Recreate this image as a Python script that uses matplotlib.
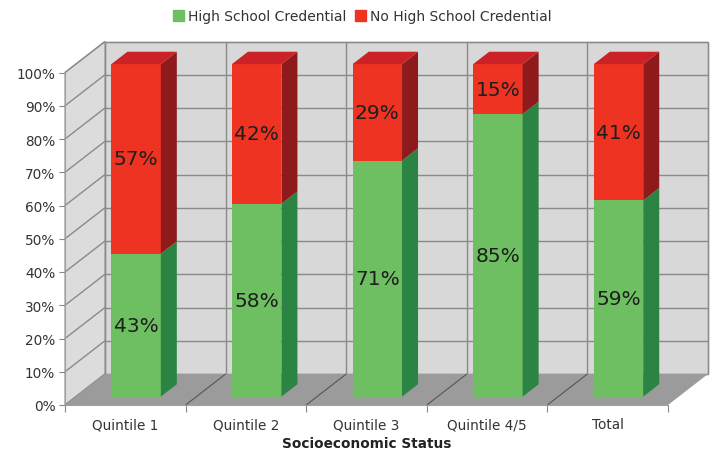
import matplotlib
matplotlib.use("Agg")
import matplotlib.pyplot as plt
from matplotlib.patches import Polygon, Patch

categories = ["Quintile 1", "Quintile 2", "Quintile 3", "Quintile 4/5", "Total"]
hs_credential = [43, 58, 71, 85, 59]
no_hs_credential = [57, 42, 29, 15, 41]
series_names = ["High School Credential", "No High School Credential"]
y_ticks = list(range(0, 101, 10))
x_label = "Socioeconomic Status"

GREEN_F, GREEN_S, GREEN_T = "#6DBF61", "#2B8443", "#4FA050"
RED_F, RED_S, RED_T = "#EF3323", "#8E1A1C", "#CA2226"
WALL, LWALL, FLOOR = "#D8D8D8", "#DCDCDC", "#9B9B9B"
GRID = "#8A8A8A"
TXT = "#333333"

plt.rcParams['font.family'] = ['DejaVu Sans']

W, H = 713, 456
fig = plt.figure(figsize=(W / 100, H / 100), dpi=100)
ax = fig.add_axes([65 / W, (H - 406) / H, (668 - 65) / W, (406 - 73.5) / H])
n = len(categories)
ax.set_xlim(0, n)
ax.set_ylim(0, 100)

# oblique depth offset in data units
DX = 40 / ((668 - 65) / n)
DY = 31 / ((406 - 73.5) / 100)


def P(x, y, z):
    return (x + z * DX, y + z * DY)


def poly(pts, fc, ec="none", lw=0, z=1):
    ax.add_patch(Polygon(pts, closed=True, facecolor=fc, edgecolor=ec,
                         linewidth=lw, clip_on=False, zorder=z))


def line(p1, p2, c=GRID, lw=1.0, z=1.5):
    ax.plot([p1[0], p2[0]], [p1[1], p2[1]], color=c, lw=lw,
            clip_on=False, zorder=z, solid_capstyle="butt")


# walls
poly([P(0, 0, 1), P(n, 0, 1), P(n, 100, 1), P(0, 100, 1)], WALL, "#A8A8A8", 1.0, 0.5)
poly([P(0, 0, 0), P(0, 0, 1), P(0, 100, 1), P(0, 100, 0)], LWALL, "#A8A8A8", 1.0, 0.5)
# grid lines
for t in y_ticks:
    line(P(0, t, 0), P(0, t, 1))
    line(P(0, t, 1), P(n, t, 1))
for i in range(n + 1):
    line(P(i, 0, 1), P(i, 100, 1))
# floor
poly([P(0, 0, 0), P(n, 0, 0), P(n, 0, 1), P(0, 0, 1)], FLOOR, "none", 0, 1.8)
for i in range(1, n):
    line(P(i, 0, 0), P(i, 0, 1), c="#555555", lw=0.8, z=1.9)

# bars
bw = 0.41
z0, z1 = 0.27, 0.67


def box(xc, y0, y1, fc, sc, tc, top):
    xl, xr = xc - bw / 2, xc + bw / 2
    poly([P(xl, y0, z0), P(xr, y0, z0), P(xr, y1, z0), P(xl, y1, z0)], fc, z=3)
    poly([P(xr, y0, z0), P(xr, y0, z1), P(xr, y1, z1), P(xr, y1, z0)], sc, z=3)
    if top:
        poly([P(xl, y1, z0), P(xr, y1, z0), P(xr, y1, z1), P(xl, y1, z1)], tc, z=3)


for i, (g, r) in enumerate(zip(hs_credential, no_hs_credential)):
    xc = i + 0.5
    box(xc, 0, g, GREEN_F, GREEN_S, GREEN_T, False)
    box(xc, g, g + r, RED_F, RED_S, RED_T, True)
    for y0, v in ((0, g), (g, r)):
        tx, ty = P(xc, y0 + v / 2, z0)
        ax.text(tx, ty, f"{v}%", ha="center", va="center", fontsize=14.5,
                color="#1E1E1E", zorder=5)

# axes styling
for s in ("top", "right"):
    ax.spines[s].set_visible(False)
ax.spines["left"].set_color("#A0A0A0")
ax.spines["bottom"].set_color("#A0A0A0")
ax.spines["left"].set_zorder(2)
ax.spines["bottom"].set_zorder(2)
ax.set_facecolor("none")
ax.set_yticks(y_ticks)
ax.set_yticklabels([f"{t}%" for t in y_ticks])
ax.tick_params(axis="y", length=4, color="#888888", labelcolor=TXT,
               labelsize=9.8, pad=3)
ax.set_xticks(range(n + 1))
ax.set_xticklabels([])
ax.tick_params(axis="x", which="major", length=5, color="#888888")
ax.set_xticks([i + 0.5 for i in range(n)], minor=True)
ax.set_xticklabels(categories, minor=True)
ax.tick_params(axis="x", which="minor", length=0, pad=9, labelsize=9.8,
               labelcolor=TXT)
ax.set_xlabel(x_label, fontsize=9.8, fontweight="bold", color="#222222",
              labelpad=3)

fig.legend(handles=[Patch(color=GREEN_F), Patch(color=RED_F)],
           labels=series_names, loc="center", bbox_to_anchor=(0.508, 0.962),
           ncol=2, frameon=False, fontsize=10, handlelength=0.8,
           handleheight=0.8, handletextpad=0.3, columnspacing=0.6,
           labelcolor=TXT)

fig.savefig("out.png", dpi=100)
